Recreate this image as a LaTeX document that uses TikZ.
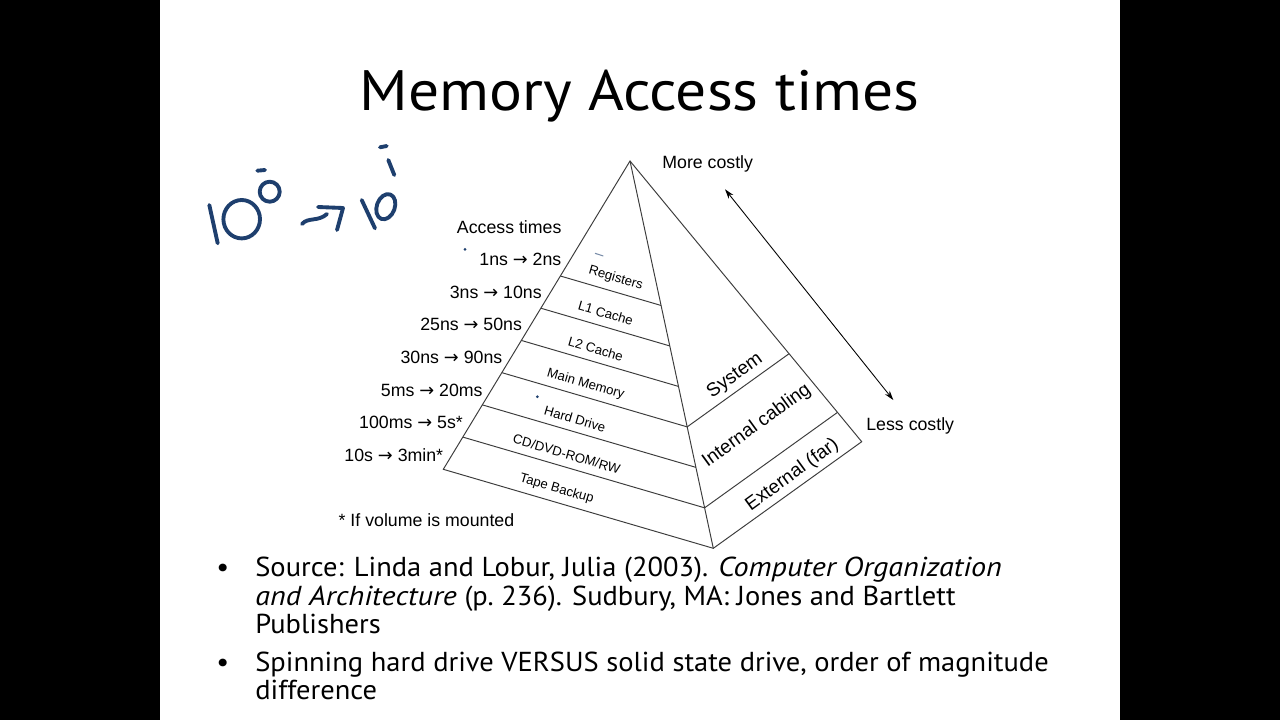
\documentclass[tikz,border=0pt]{standalone}
\usepackage{fontspec}
\setmainfont[FakeStretch=1.04,ItalicFeatures={FakeStretch=1.1}]{PT Sans}
\newfontfamily\titlefont[FakeStretch=1.08]{PT Sans}
\newfontfamily\arialfont{Liberation Sans}
\newfontfamily\symfont{DejaVu Sans}
\newcommand\toarrow{{\symfont →}}
\usetikzlibrary{calc,arrows.meta}
\definecolor{ink}{HTML}{1E3F6E}
\definecolor{edgegray}{HTML}{3C3C3C}

\begin{document}
\begin{tikzpicture}[x=0.02cm, y=-0.02cm,
  edge/.style={edgegray, line width=0.55pt},
  lvl/.style={font=\arialfont\fontsize{7.5}{9}\selectfont, rotate=-16.3, inner sep=0pt},
  zone/.style={font=\arialfont\fontsize{10.8}{12}\selectfont, rotate=36, inner sep=0pt},
  lbl/.style={font=\arialfont\fontsize{10.1}{12}\selectfont, inner sep=0pt},
  bul/.style={font=\fontsize{15.6}{16.2}\selectfont, align=left, inner sep=0pt},
  pen/.style={ink, line width=2.2pt, line cap=round, line join=round}]

\useasboundingbox (0,0) rectangle (1280,720);
\fill[black] (0,0) rectangle (1280,720);
\fill[white] (159.5,0) rectangle (1119.5,720);

\node[font=\titlefont\fontsize{32.4}{36}\selectfont, anchor=base, inner sep=0pt] (title) at (639.5,110) {Memory Access times};

% pyramid
\coordinate (apex) at (630,161);
\coordinate (lft) at (443.3,469.3);
\coordinate (frt) at (713.3,548.3);
\coordinate (rgt) at (861.7,441.7);
\draw[edge] (lft) -- (apex) -- (rgt) -- (frt) -- cycle;
\draw[edge] (apex) -- (frt);
\foreach \f in {0.373,0.4775,0.582,0.6865,0.791,0.8955}
  \draw[edge] ($(apex)!\f!(lft)$) -- ($(apex)!\f!(frt)$);
\foreach \f in {0.6865,0.8955}
  \draw[edge] ($(apex)!\f!(frt)$) -- ($(apex)!\f!(rgt)$);

\node[lvl] (reg) at (615.7,278.3) {Registers};
\node[lvl] (l1) at (605.7,313.3) {L1 Cache};
\node[lvl] (l2) at (595.7,349) {L2 Cache};
\node[lvl] (mem) at (585.7,384) {Main Memory};
\node[lvl] (hd) at (575,419) {Hard Drive};
\node[lvl] (cd) at (566.7,454) {CD/DVD-ROM/RW};
\node[lvl] (tape) at (556.7,489) {Tape Backup};

\node[zone] (sys) at (735,375.7) {System};
\node[zone] (cab) at (756.7,425.7) {Internal cabling};
\node[zone] (ext) at (792.3,475) {External (far)};

% access times
\node[lbl, anchor=base] (acc) at (509.2,233) {Access times};
\foreach \t [count=\i from 0] in {1ns \toarrow{} 2ns, 3ns \toarrow{} 10ns, 25ns \toarrow{} 50ns,
    30ns \toarrow{} 90ns, 5ms \toarrow{} 20ms, 100ms \toarrow{} 5s*, 10s \toarrow{} 3min*}
  \node[lbl, anchor=base east] (t\i) at ({561.7-19.7*\i},{265.7+32.6*\i}) {\t};
\node[lbl, anchor=base west] (note) at (338.3,526.4) {* If volume is mounted};

% cost
\node[lbl, anchor=base west] (more) at (662,168.4) {More costly};
\node[lbl, anchor=base west] (less) at (866,430.4) {Less costly};
\coordinate (hi) at (725,189.3);
\coordinate (lo) at (893.3,400);
\draw[{Stealth[length=5.5pt,width=3.4pt]}-{Stealth[length=5.5pt,width=3.4pt]}, line width=0.5pt] (hi) -- (lo);

% bullets
\node[bul, anchor=base] (d1) at (222.7,576.7) {•};
\node[bul, anchor=base west] (src) at (255,633.7) {Source: Linda and Lobur, Julia (2003). \textit{Computer Organization}\\
  \textit{and Architecture} (p.~236). Sudbury, MA: Jones and Bartlett\\
  Publishers};
\node[bul, anchor=base] (d2) at (222.7,671) {•};
\node[bul, anchor=base west] (ssd) at (255,699.5) {Spinning hard drive VERSUS solid state drive, order of magnitude\\
  difference};

% ink
\draw[pen] (209.3,205) -- (217.7,243.3);
\draw[pen] (241.7,219.2) ellipse [x radius=18.3, y radius=19.2];
\draw[pen] (257.3,170.7) -- (265,170);
\draw[pen] (269.7,191.7) ellipse [x radius=10, y radius=10];
\draw[pen] (302,224) .. controls (308,217) and (318,222) .. (327,214);
\draw[pen] (318,207) -- (343,208) -- (337,230);
\draw[pen] (361.7,200) -- (375,228.3);
\draw[pen, rotate around={-20:(385.8,206.7)}] (385.8,206.7) ellipse [x radius=9, y radius=13];
\draw[pen] (380,147.3) -- (386.7,146);
\draw[pen] (388.3,160) -- (394.3,175);
\fill[ink] (465,249.3) circle (1.5);
\fill[ink] (537.3,396.7) circle (1.5);
\draw[ink!60, line width=0.6pt] (595,253.3) -- (603.3,256);

\end{tikzpicture}
\end{document}
